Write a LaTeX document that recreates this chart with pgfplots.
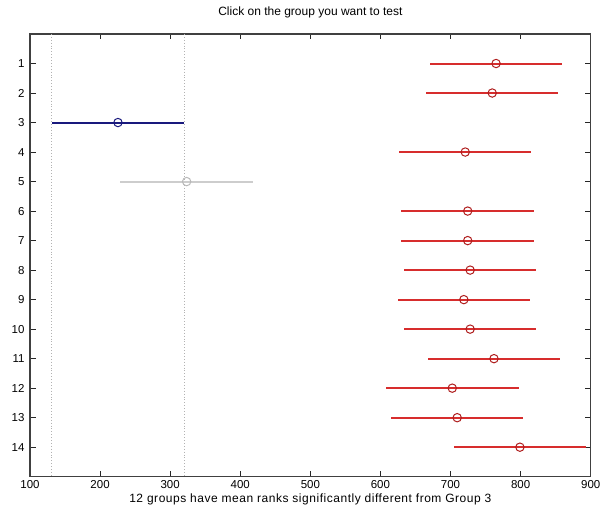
\documentclass[border=0pt]{standalone}
\usepackage{fontspec}
\setmainfont{Liberation Sans}
\usepackage{pgfplots}
\usepackage{pgfplotstable}
\pgfplotsset{compat=1.18}

\definecolor{sigred}{RGB}{215,45,45}
\definecolor{sigredmark}{RGB}{175,30,30}
\definecolor{testblue}{RGB}{25,25,125}
\definecolor{nsgray}{RGB}{205,205,205}
\definecolor{nsgraymark}{RGB}{185,185,185}

% group, mean rank, half-width of the comparison interval
\pgfplotstableread{
g  m      e
1  765.0  94.5
2  759.5  94.5
4  721.0  94.5
6  724.5  94.5
7  724.5  94.5
8  728.0  94.5
9  719.0  94.5
10 728.0  94.5
11 762.0  94.5
12 702.5  94.5
13 709.5  94.5
14 799.0  94.5
}\sigtable
\pgfplotstableread{
g  m      e
3  225.5  94.5
}\testtable
\pgfplotstableread{
g  m      e
5  323.5  94.5
}\nstable

\begin{document}
\begin{tikzpicture}
\begin{axis}[
  at={(30pt,36.3pt)}, anchor=south west,
  scale only axis, width=560.7pt, height=442.7pt,
  xmin=100, xmax=900, ymin=0, ymax=15, y dir=reverse,
  xtick={100,200,...,900}, ytick={1,...,14},
  tick align=inside, major tick length=5.5pt,
  tick style={black!85, line width=0.9pt},
  axis line style={black!75, line width=1.2pt},
  /pgf/number format/assume math mode=true,
  ticklabel style={font=\fontsize{11.5}{13}\selectfont},
  yticklabel style={xshift=-2pt},
  title={Click on the group you want to test},
  title style={font=\fontsize{12}{14}\selectfont, at={(axis description cs:0.5,1)}, anchor=center, yshift=15.5pt},
  xlabel={\addfontfeature{LetterSpace=4.4}12 groups have mean ranks significantly different from Group 3},
  xlabel style={font=\fontsize{12}{14}\selectfont, at={(axis description cs:0.5,0)}, anchor=center, yshift=-22.5pt},
]
% interval bounds of the tested group
\addplot[black!30, dotted, line width=0.9pt] coordinates {(131,0) (131,15)};
\addplot[black!30, dotted, line width=0.9pt] coordinates {(320,0) (320,15)};

\addplot[only marks, mark=o, mark size=4.2pt,
  mark options={draw=sigredmark, fill=white, line width=1pt},
  error bars/.cd, x dir=both, x explicit, error mark=none,
  error bar style={sigred, line width=2pt}]
  table[x=m, y=g, x error=e] {\sigtable};

\addplot[only marks, mark=o, mark size=4.2pt,
  mark options={draw=testblue, fill=white, line width=1pt},
  error bars/.cd, x dir=both, x explicit, error mark=none,
  error bar style={testblue, line width=2pt}]
  table[x=m, y=g, x error=e] {\testtable};

\addplot[only marks, mark=o, mark size=4.2pt,
  mark options={draw=nsgraymark, fill=white, line width=1pt},
  error bars/.cd, x dir=both, x explicit, error mark=none,
  error bar style={nsgray, line width=2pt}]
  table[x=m, y=g, x error=e] {\nstable};
\end{axis}
\pgfresetboundingbox
\path (0pt,0pt) rectangle (604pt,513pt);
\end{tikzpicture}
\end{document}
